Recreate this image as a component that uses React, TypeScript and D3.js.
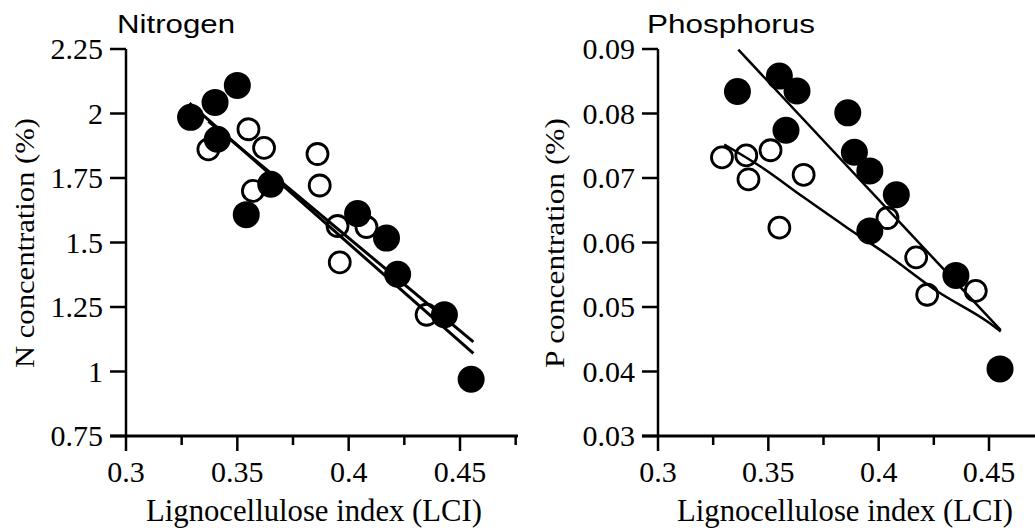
import React from "react";
import * as d3 from "d3";

// ---------- data ----------
const lciMajorTicks = [0.3, 0.35, 0.4, 0.45];
const lciMajorLabels = ["0.3", "0.35", "0.4", "0.45"];
const lciMinorTicks = [0.325, 0.375, 0.425, 0.475];

const nTicks = [0.75, 1, 1.25, 1.5, 1.75, 2, 2.25];
const nTickLabels = ["0.75", "1", "1.25", "1.5", "1.75", "2", "2.25"];
const pTicks = [0.03, 0.04, 0.05, 0.06, 0.07, 0.08, 0.09];
const pTickLabels = ["0.03", "0.04", "0.05", "0.06", "0.07", "0.08", "0.09"];

// Nitrogen panel
const nFilledLCI = [0.329, 0.340, 0.350, 0.341, 0.365, 0.354, 0.404, 0.417, 0.422, 0.443, 0.455];
const nFilledN = [1.985, 2.043, 2.109, 1.9, 1.726, 1.608, 1.612, 1.517, 1.377, 1.22, 0.97];
const nOpenLCI = [0.337, 0.355, 0.362, 0.357, 0.386, 0.387, 0.395, 0.408, 0.396, 0.435];
const nOpenN = [1.861, 1.939, 1.867, 1.7, 1.843, 1.721, 1.564, 1.56, 1.423, 1.22];
const nFitFilledLCI = [0.3285, 0.456];
const nFitFilledN = [2.04, 1.07];
const nFitOpenLCI = [0.337, 0.456];
const nFitOpenN = [1.97, 1.115];

// Phosphorus panel
const pFilledLCI = [0.336, 0.355, 0.363, 0.358, 0.386, 0.389, 0.396, 0.408, 0.396, 0.435, 0.455];
const pFilledP = [0.0834, 0.0858, 0.0835, 0.0774, 0.0801, 0.074, 0.0711, 0.0674, 0.0618, 0.0549, 0.0404];
const pOpenLCI = [0.329, 0.34, 0.341, 0.351, 0.366, 0.355, 0.404, 0.417, 0.422, 0.444];
const pOpenP = [0.0732, 0.0735, 0.0698, 0.0743, 0.0705, 0.0623, 0.0638, 0.0577, 0.0519, 0.0525];
const pFitFilledLCI = [0.3364, 0.4553];
const pFitFilledP = [0.0899, 0.0464];
const pFitOpenLCI = [0.33, 0.3468, 0.366, 0.3857, 0.4039, 0.4267, 0.4494, 0.4553];
const pFitOpenP = [0.0752, 0.0717, 0.067, 0.0623, 0.0581, 0.0524, 0.0477, 0.0462];

const SERIF = '"Liberation Serif", "DejaVu Serif", "Times New Roman", serif';
const SANS = '"Liberation Sans", Arial, sans-serif';

type PanelProps = {
  title: string;
  titleX: number;
  titleLen: number;
  yTitle: string;
  yTitleX: number;
  axisX: number;
  axisEnd: number;
  xRange: [number, number];
  yDomain: [number, number];
  yTicks: number[];
  yTickLabels: string[];
  filledX: number[];
  filledY: number[];
  openX: number[];
  openY: number[];
  fits: { x: number[]; y: number[]; w: number }[];
  xLabelX: number;
};

const TOP = 49;
const BOTTOM = 436;

function Panel(p: PanelProps) {
  const x = d3.scaleLinear().domain([0.3, 0.45]).range(p.xRange);
  const y = d3.scaleLinear().domain(p.yDomain).range([BOTTOM, TOP]);
  const line = d3
    .line<[number, number]>()
    .x((d) => x(d[0]))
    .y((d) => y(d[1]))
    .curve(d3.curveMonotoneX);
  const serif = { fontFamily: SERIF };
  return (
    <g>
      <text
        x={p.titleX}
        y={33}
        style={{ fontFamily: SANS }}
        fontSize={26}
        textLength={p.titleLen}
        lengthAdjust="spacingAndGlyphs"
      >
        {p.title}
      </text>
      <text
        transform={`translate(${p.yTitleX},243) rotate(-90)`}
        textAnchor="middle"
        style={serif}
        fontSize={28}
        textLength={250}
        lengthAdjust="spacingAndGlyphs"
      >
        {p.yTitle}
      </text>
      {/* y axis */}
      <line x1={p.axisX} x2={p.axisX} y1={TOP} y2={BOTTOM} stroke="#000" strokeWidth={2.5} />
      {p.yTicks.map((t, i) => (
        <g key={"yt" + i}>
          <line x1={p.axisX - 16} x2={p.axisX} y1={y(t)} y2={y(t)} stroke="#000" strokeWidth={2.5} />
          <text x={p.axisX - 23} y={y(t) + 10} textAnchor="end" style={serif} fontSize={30}>
            {p.yTickLabels[i]}
          </text>
        </g>
      ))}
      {/* x axis */}
      <line x1={p.axisX - 16} x2={p.axisEnd} y1={BOTTOM} y2={BOTTOM} stroke="#000" strokeWidth={3} />
      {lciMajorTicks.map((t, i) => (
        <g key={"xt" + i}>
          <line x1={x(t)} x2={x(t)} y1={BOTTOM} y2={BOTTOM + 15} stroke="#000" strokeWidth={2.5} />
          <text x={x(t)} y={BOTTOM + 46} textAnchor="middle" style={serif} fontSize={30}>
            {lciMajorLabels[i]}
          </text>
        </g>
      ))}
      {lciMinorTicks.map((t, i) => (
        <line key={"xm" + i} x1={x(t)} x2={x(t)} y1={BOTTOM} y2={BOTTOM + 9} stroke="#000" strokeWidth={2.5} />
      ))}
      <text
        x={p.xLabelX}
        y={521}
        textAnchor="middle"
        style={serif}
        fontSize={31}
        textLength={336}
        lengthAdjust="spacingAndGlyphs"
      >
        Lignocellulose index (LCI)
      </text>
      {/* points */}
      {p.openX.map((v, i) => (
        <circle key={"o" + i} cx={x(v)} cy={y(p.openY[i])} r={10.5} fill="none" stroke="#000" strokeWidth={2.8} />
      ))}
      {p.filledX.map((v, i) => (
        <circle key={"f" + i} cx={x(v)} cy={y(p.filledY[i])} r={13.5} fill="#000" />
      ))}
      {/* fitted lines */}
      {p.fits.map((f, i) => (
        <path
          key={"l" + i}
          d={line(f.x.map((v, j) => [v, f.y[j]] as [number, number])) || ""}
          fill="none"
          stroke="#000"
          strokeWidth={f.w}
        />
      ))}
    </g>
  );
}

export default function App() {
  return (
    <svg
      width={1035}
      height={531}
      viewBox="0 0 1035 531"
      style={{ position: "absolute", left: 0, top: 0, background: "#fff" }}
    >
      <rect width={1035} height={531} fill="#fff" />
      <Panel
        title="Nitrogen"
        titleX={117}
        titleLen={118}
        yTitle="N concentration (%)"
        yTitleX={34}
        axisX={126}
        axisEnd={518}
        xRange={[126, 460]}
        yDomain={[0.75, 2.25]}
        yTicks={nTicks}
        yTickLabels={nTickLabels}
        filledX={nFilledLCI}
        filledY={nFilledN}
        openX={nOpenLCI}
        openY={nOpenN}
        fits={[
          { x: nFitFilledLCI, y: nFitFilledN, w: 3 },
          { x: nFitOpenLCI, y: nFitOpenN, w: 3 },
        ]}
        xLabelX={314}
      />
      <Panel
        title="Phosphorus"
        titleX={647}
        titleLen={168}
        yTitle="P concentration (%)"
        yTitleX={564}
        axisX={658}
        axisEnd={1035}
        xRange={[658, 989]}
        yDomain={[0.03, 0.09]}
        yTicks={pTicks}
        yTickLabels={pTickLabels}
        filledX={pFilledLCI}
        filledY={pFilledP}
        openX={pOpenLCI}
        openY={pOpenP}
        fits={[
          { x: pFitFilledLCI, y: pFitFilledP, w: 2.5 },
          { x: pFitOpenLCI, y: pFitOpenP, w: 2.5 },
        ]}
        xLabelX={845}
      />
    </svg>
  );
}
